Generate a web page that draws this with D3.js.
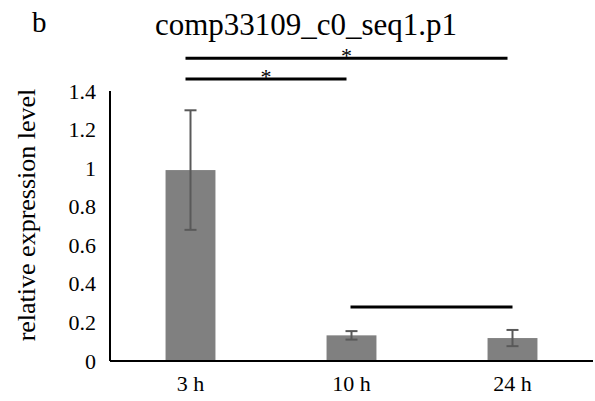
<!DOCTYPE html>
<html>
<head>
<meta charset="utf-8">
<script src="https://cdn.jsdelivr.net/npm/d3@7"></script>
<style>
html,body{margin:0;padding:0;background:#fff;}
svg{display:block;}
text{font-family:"Liberation Serif","Times New Roman",serif;fill:#000;}
</style>
</head>
<body>
<svg id="chart" width="595" height="401"></svg>
<script>
const categories = ["3 h", "10 h", "24 h"];
const values = [0.99, 0.133, 0.119];
const errors = [0.31, 0.022, 0.042];
const yTicks = [0, 0.2, 0.4, 0.6, 0.8, 1.0, 1.2, 1.4];
const title = "comp33109_c0_seq1.p1";
const panelLabel = "b";
const yLabel = "relative expression level";
// significance brackets: from category, to category, level (data units), mark
const sigFrom = ["3 h", "3 h", "10 h"];
const sigTo = ["24 h", "10 h", "24 h"];
const sigLevel = [1.57, 1.462, 0.28];
const sigMark = ["*", "*", ""];

const svg = d3.select("#chart");
const x = d3.scaleBand().domain(categories).range([110, 593]).paddingInner(0.69).paddingOuter(0.345);
const y = d3.scaleLinear().domain([0, 1.4]).range([361, 91]);

// bars
svg.selectAll("rect.bar").data(categories).join("rect")
  .attr("class", "bar")
  .attr("x", d => x(d))
  .attr("width", x.bandwidth())
  .attr("y", (d, i) => y(values[i]))
  .attr("height", (d, i) => y(0) - y(values[i]))
  .attr("fill", "#808080");

// error bars
const eb = svg.append("g").attr("stroke", "#595959").attr("stroke-width", 2);
categories.forEach((c, i) => {
  const cx = x(c) + x.bandwidth() / 2;
  const hi = y(values[i] + errors[i]), lo = y(values[i] - errors[i]);
  eb.append("line").attr("x1", cx).attr("x2", cx).attr("y1", hi).attr("y2", lo);
  eb.append("line").attr("x1", cx - 6).attr("x2", cx + 6).attr("y1", hi).attr("y2", hi);
  eb.append("line").attr("x1", cx - 6).attr("x2", cx + 6).attr("y1", lo).attr("y2", lo);
});

// y axis
const yAxis = d3.axisLeft(y).tickValues(yTicks).tickSize(0).tickPadding(14)
  .tickFormat(d => d3.format("")(+d.toFixed(1)));
const gy = svg.append("g").attr("transform", "translate(110,0)").call(yAxis);
gy.select(".domain").attr("stroke", "#000").attr("stroke-width", 2).attr("d", `M0,${y(1.4)}V${y(0)}`);
gy.selectAll("text").attr("font-size", 22).attr("font-family", "Liberation Serif").attr("fill", "#000");

// x axis
const xAxis = d3.axisBottom(x).tickSize(0).tickPadding(14);
const gx = svg.append("g").attr("transform", `translate(0,${y(0)})`).call(xAxis);
gx.select(".domain").attr("stroke", "#000").attr("stroke-width", 2).attr("d", "M110,0H593");
gx.selectAll("text").attr("font-size", 22).attr("font-family", "Liberation Serif").attr("fill", "#000");

// significance brackets
sigFrom.forEach((f, i) => {
  const x1 = x(f) + x.bandwidth() / 2 - 5;
  const x2 = x(sigTo[i]) + x.bandwidth() / 2 - (i === 2 ? 0 : 5);
  const x1b = i === 2 ? x1 + 4 : x1;
  const yy = y(sigLevel[i]);
  svg.append("line").attr("x1", x1b).attr("x2", x2).attr("y1", yy).attr("y2", yy)
    .attr("stroke", "#000").attr("stroke-width", 3);
  if (sigMark[i]) {
    svg.append("text").attr("x", (x1b + x2) / 2).attr("y", yy + 5)
      .attr("text-anchor", "middle").attr("font-size", 22).text(sigMark[i]);
  }
});

// title, panel label, y label
svg.append("text").attr("x", 306).attr("y", 35).attr("text-anchor", "middle")
  .attr("font-size", 31).text(title);
svg.append("text").attr("x", 32).attr("y", 32).attr("font-size", 29).text(panelLabel);
svg.append("text").attr("transform", "translate(35,215) rotate(-90)")
  .attr("text-anchor", "middle").attr("font-size", 26).text(yLabel);
</script>
</body>
</html>
